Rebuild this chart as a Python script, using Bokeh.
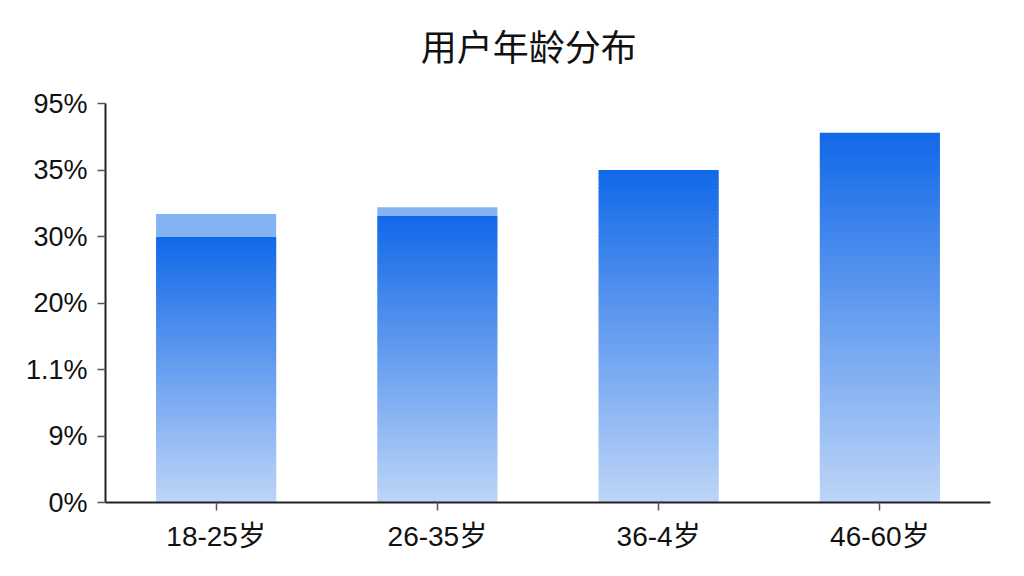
from bokeh.plotting import figure
from bokeh.models import FactorRange, Range1d, FixedTicker
from bokeh.layouts import column
from bokeh.core.properties import value
from bokeh.embed import file_html
from bokeh.resources import INLINE

# ---- data ----
categories = ["18-25岁", "26-35岁", "36-4岁", "46-60岁"]
values = [4.0, 4.31, 5.0, 5.56]          # bar top (axis units, ticks at 0..6)
cap_tops = [4.34, 4.44, 5.0, 5.56]       # lighter top band
y_tick_positions = [0, 1, 2, 3, 4, 5, 6]
y_tick_labels = ["0%", "9%", "1.1%", "20%", "30%", "35%", "95%"]
title_text = "用户年龄分布"

top_rgb = (17, 104, 232)
bottom_rgb = (190, 213, 247)
cap_color = "#84b3f3"

W = 1008
TITLE_H = 80
H = 560 - TITLE_H

# ---- title strip ----
t = figure(width=W, height=TITLE_H, x_range=Range1d(0, W), y_range=Range1d(0, TITLE_H),
           output_backend="svg", toolbar_location=None,
           x_axis_location=None, y_axis_location=None,
           min_border_left=0, min_border_right=0, min_border_top=0, min_border_bottom=0,
           outline_line_color=None, background_fill_color="white", border_fill_color="white")
t.grid.visible = False
t.text(x=[482], y=[36], text=[title_text], text_align="center",
       text_baseline="middle", text_font=value("Noto Sans CJK SC"),
       text_font_size="36px", text_color="#111111")

# ---- main chart ----
p = figure(x_range=FactorRange(*categories), y_range=Range1d(0, 6),
           width=W, height=H, output_backend="svg", toolbar_location=None,
           min_border_left=105, min_border_right=18, min_border_top=103 - TITLE_H,
           min_border_bottom=58, background_fill_color="white",
           border_fill_color="white", outline_line_color=None)

# gradient bars made of thin slices
N = 90
xs, bots, tops, cols = [], [], [], []
for c, v in zip(categories, values):
    for i in range(N):
        f0 = i / N
        f1 = (i + 1) / N
        fm = (f0 + f1) / 2
        r = round(bottom_rgb[0] + (top_rgb[0] - bottom_rgb[0]) * fm)
        g = round(bottom_rgb[1] + (top_rgb[1] - bottom_rgb[1]) * fm)
        b = round(bottom_rgb[2] + (top_rgb[2] - bottom_rgb[2]) * fm)
        xs.append(c)
        bots.append(v * f0)
        tops.append(v * f1 + (0.012 if i < N - 1 else 0))
        cols.append("#%02x%02x%02x" % (r, g, b))
p.vbar(x=xs, bottom=bots, top=tops, width=0.543, fill_color=cols, line_color=None)

cap_x = [c for c, v, tp in zip(categories, values, cap_tops) if tp > v]
cap_b = [v for v, tp in zip(values, cap_tops) if tp > v]
cap_t = [tp for v, tp in zip(values, cap_tops) if tp > v]
p.vbar(x=cap_x, bottom=cap_b, top=cap_t, width=0.543, fill_color=cap_color, line_color=None)

# axes
p.xgrid.visible = False
p.ygrid.visible = False
p.yaxis.ticker = FixedTicker(ticks=y_tick_positions)
p.yaxis.major_label_overrides = {tk: l for tk, l in zip(y_tick_positions, y_tick_labels)}
for ax in (p.xaxis[0], p.yaxis[0]):
    ax.axis_line_color = "#222222"
    ax.axis_line_width = 2
    ax.major_tick_line_color = "#555555"
    ax.major_tick_line_width = 1.5
    ax.major_tick_out = 8
    ax.major_tick_in = 0
    ax.minor_tick_line_color = None
    ax.major_label_text_font = "Liberation Sans, Noto Sans CJK SC"
    ax.major_label_text_font_size = "27px"
    ax.major_label_text_color = "#111111"
    ax.major_label_standoff = 10
p.xaxis[0].major_label_text_font_size = "28px"

layout = column(t, p, spacing=0)
open("out.html", "w").write(file_html(layout, INLINE))
